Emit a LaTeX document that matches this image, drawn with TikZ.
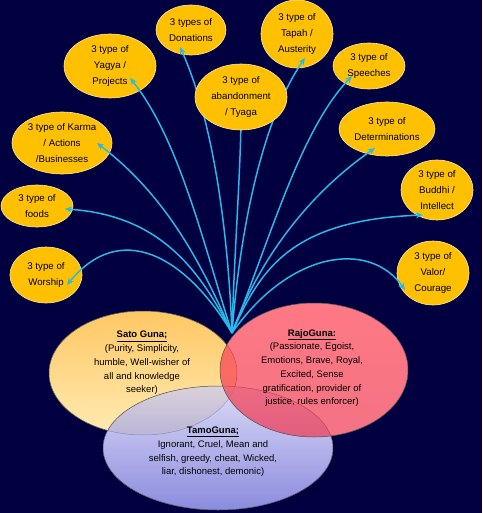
\documentclass[tikz,border=0pt]{standalone}
\usepackage{fontspec}
\setmainfont{Liberation Sans}
\usetikzlibrary{shapes.geometric,arrows.meta}

\definecolor{navy}{RGB}{0,0,64}
\definecolor{leafgold}{RGB}{255,192,0}
\definecolor{leafrim}{RGB}{255,232,170}
\definecolor{linkblue}{RGB}{40,185,235}

\tikzset{
leaf/.style={ellipse,fill=leafgold,draw=leafrim,line width=.6pt,inner sep=0pt,align=center,font=\fontsize{9.7}{16}\selectfont},
gunabase/.style={ellipse,fill=white,inner sep=0pt},
guna/.style={ellipse,draw=gray!60!black,line width=.5pt,fill opacity=.72,inner sep=0pt},
gunatext/.style={align=center,font=\fontsize{9.5}{13.7}\selectfont},
link/.style={linkblue,line width=1.5pt,-{Stealth[length=7pt,width=6pt]}}
}

\begin{document}
\begin{tikzpicture}[x=1pt,y=-1pt]

\fill[navy] (0,0) rectangle (482,513);
\useasboundingbox (0,0) rectangle (482,513);

\node[leaf,minimum width=70pt,minimum height=50pt] (donations) at (191,30) {3 types of\\Donations};
\node[leaf,minimum width=72pt,minimum height=68pt] (tapah) at (297,34) {3 type of\\Tapah /\\Austerity};
\node[leaf,minimum width=92pt,minimum height=64pt] (yagya) at (110,66) {3 type of\\Yagya /\\Projects};
\node[leaf,minimum width=72pt,minimum height=46pt] (speeches) at (369,66) {3 type of\\Speeches};
\node[leaf,minimum width=100pt,minimum height=62pt] (karma) at (62,143) {3 type of Karma\\/ Actions\\/Businesses};
\node[leaf,minimum width=96pt,minimum height=54pt] (determ) at (387,129) {3 type of\\Determinations};
\node[leaf,minimum width=72pt,minimum height=42pt] (foods) at (37,206) {3 type of\\foods};
\node[leaf,minimum width=72pt,minimum height=60pt] (buddhi) at (437,190) {3 type of\\Buddhi /\\Intellect};
\node[leaf,minimum width=72pt,minimum height=56pt] (worship) at (46,275) {3 type of\\Worship};
\node[leaf,minimum width=72pt,minimum height=64pt] (valor) at (433,273) {3 type of\\Valor/\\Courage};

\coordinate (tyaga-c) at (241,97);
\coordinate (hub) at (232,333);

\foreach \n/\sx/\sy/\ax/\ay/\bx/\by in {
worship/21/10/185/255/120/220,
foods/28/3/200/270/160/215,
karma/35/0/200/260/165/195,
yagya/20/12/205/250/180/140,
donations/-11/17/228/230/213/120,
tyaga-c/0/23/234/260/240/180,
tapah/8/24/240/230/262/120,
speeches/-17/10/270/240/300/130,
determ/-12/19/255/270/300/200,
buddhi/-14/25/260/270/290/220,
valor/-28/17/290/250/370/240
}{
\draw[link] (hub) .. controls (\ax,\ay) and (\bx,\by) .. ([shift={(\sx,\sy)}]\n.center);
}

\node[leaf,minimum width=92pt,minimum height=66pt] (tyaga) at (tyaga-c) {3 type of\\abandonment\\/ Tyaga};

\foreach \x/\y/\w/\h in {143/373/188/124,218/448/230/124,314/370/188/134}{
\node[gunabase,minimum width=\w pt,minimum height=\h pt] at (\x,\y) {};
}

\node[guna,minimum width=188pt,minimum height=124pt,top color={rgb,255:red,255;green,178;blue,40},middle color={rgb,255:red,255;green,242;blue,195},bottom color={rgb,255:red,255;green,228;blue,150}] (sato) at (143,373) {};
\node[gunatext] (sato-t) at ([shift={(-1,-10)}]sato.center) {\underline{\textbf{Sato Guna;}}\\(Purity, Simplicity,\\humble, Well-wisher of\\all and knowledge\\seeker)};

\node[guna,minimum width=230pt,minimum height=124pt,top color={rgb,255:red,205;green,205;blue,245},middle color={rgb,255:red,170;green,170;blue,235},bottom color={rgb,255:red,95;green,95;blue,210}] (tamo) at (218,448) {};
\node[gunatext] (tamo-t) at ([shift={(-5,4)}]tamo.center) {\underline{\textbf{TamoGuna;}}\\Ignorant, Cruel, Mean and\\selfish, greedy, cheat, Wicked,\\liar, dishonest, demonic)};

\node[guna,minimum width=188pt,minimum height=134pt,top color={rgb,255:red,255;green,70;blue,85},middle color={rgb,255:red,255;green,228;blue,228},bottom color={rgb,255:red,240;green,60;blue,85}] (rajo) at (314,370) {};
\node[gunatext] (rajo-t) at ([shift={(-2,-2)}]rajo.center) {\underline{\textbf{RajoGuna:}}\\(Passionate, Egoist,\\Emotions, Brave, Royal,\\Excited, Sense\\gratification, provider of\\justice, rules enforcer)};

\end{tikzpicture}
\end{document}
